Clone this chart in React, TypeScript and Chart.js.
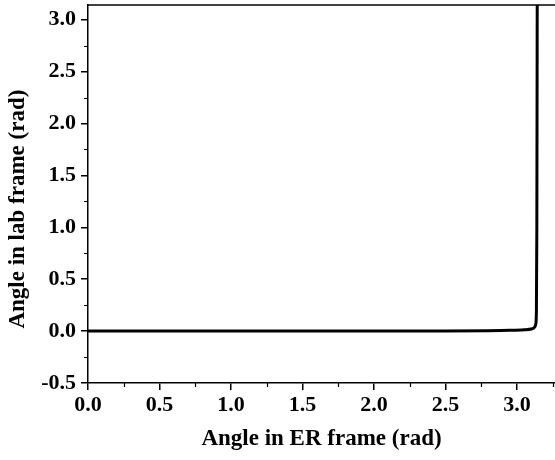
import React, { useEffect, useRef } from "react";
import { Chart, registerables } from "chart.js";

Chart.register(...registerables);

const xValues = [0, 0.5, 1.0, 1.5, 2.0, 2.5, 2.8, 2.95, 3.05, 3.1, 3.115, 3.125, 3.132, 3.136, 3.139, 3.1416];
const yValues = [0, 0, 0, 0, 0, 0, 0.003, 0.007, 0.013, 0.02, 0.028, 0.04, 0.07, 0.2, 1.0, 3.1416];
const xTicks = [0, 0.5, 1.0, 1.5, 2.0, 2.5, 3.0];
const yTicks = [-0.5, 0, 0.5, 1.0, 1.5, 2.0, 2.5, 3.0];
const xMinor = [0.25, 0.75, 1.25, 1.75, 2.25, 2.75, 3.25];
const yMinor = [-0.25, 0.25, 0.75, 1.25, 1.75, 2.25, 2.75];
const yTitle = "Angle in lab frame (rad)";
const xTitle = "Angle in ER frame (rad)";

const FONT = "'Liberation Serif', 'Times New Roman', serif";

const extras = {
  id: "extras",
  afterDraw(chart: any) {
    const { ctx, chartArea } = chart;
    const xs = chart.scales.x;
    const ys = chart.scales.y;
    ctx.save();
    ctx.strokeStyle = "#000";
    ctx.lineWidth = 1.5;
    ctx.beginPath();
    ctx.moveTo(chartArea.left, chartArea.top);
    ctx.lineTo(chartArea.right, chartArea.top);
    ctx.stroke();
    ctx.lineWidth = 1.2;
    ctx.beginPath();
    for (const v of xMinor) {
      const px = Math.round(xs.getPixelForValue(v)) + 0.5;
      ctx.moveTo(px, chartArea.bottom);
      ctx.lineTo(px, chartArea.bottom + 4);
    }
    for (const v of yMinor) {
      const py = Math.round(ys.getPixelForValue(v)) + 0.5;
      ctx.moveTo(chartArea.left, py);
      ctx.lineTo(chartArea.left - 4, py);
    }
    ctx.stroke();
    ctx.translate(18, chartArea.top + (chartArea.bottom - chartArea.top) * 0.54);
    ctx.rotate(-Math.PI / 2);
    ctx.fillStyle = "#000";
    ctx.font = `bold 23px ${FONT}`;
    ctx.textAlign = "center";
    ctx.textBaseline = "middle";
    ctx.fillText(yTitle, 0, 0);
    ctx.restore();
  },
};

export default function App() {
  const ref = useRef<HTMLCanvasElement | null>(null);
  useEffect(() => {
    if (!ref.current) return;
    const chart = new Chart(ref.current, {
      type: "line",
      data: {
        datasets: [
          {
            data: xValues.map((x, i) => ({ x, y: yValues[i] })),
            borderColor: "#000",
            borderWidth: 3,
            pointRadius: 0,
            tension: 0,
            cubicInterpolationMode: "monotone",
            fill: false,
          },
        ],
      },
      options: {
        animation: false,
        responsive: false,
        devicePixelRatio: 1,
        layout: { padding: { top: 5, right: 0, left: 0, bottom: 0 } },
        plugins: { legend: { display: false }, tooltip: { enabled: false } },
        scales: {
          x: {
            type: "linear",
            min: 0,
            max: 3.266,
            afterBuildTicks: (s: any) => {
              s.ticks = xTicks.map((v) => ({ value: v }));
            },
            afterFit: (s: any) => {
              s.height = 77;
              s.paddingLeft = 0;
              s.paddingRight = 0;
            },
            grid: { drawOnChartArea: false, drawTicks: true, tickLength: 7, color: "#000", lineWidth: 1.5 },
            border: { display: true, color: "#000", width: 1.5 },
            ticks: {
              color: "#000",
              padding: 2,
              maxRotation: 0,
              autoSkip: false,
              font: { family: FONT, size: 22, weight: "bold" },
              callback: (v: any) => Number(v).toFixed(1),
            },
            title: {
              display: true,
              text: xTitle,
              color: "#000",
              font: { family: FONT, size: 23, weight: "bold" },
              padding: { top: 0, bottom: 7 },
            },
          },
          y: {
            type: "linear",
            min: -0.5,
            max: 3.1416,
            afterBuildTicks: (s: any) => {
              s.ticks = yTicks.map((v) => ({ value: v }));
            },
            afterFit: (s: any) => {
              s.width = 88;
              s.paddingTop = 0;
              s.paddingBottom = 0;
            },
            grid: { drawOnChartArea: false, drawTicks: true, tickLength: 7, color: "#000", lineWidth: 1.5 },
            border: { display: true, color: "#000", width: 1.5 },
            ticks: {
              color: "#000",
              padding: 5,
              autoSkip: false,
              font: { family: FONT, size: 22, weight: "bold" },
              callback: (v: any) => Number(v).toFixed(1),
            },
            title: { display: false },
          },
        },
      } as any,
      plugins: [extras],
    });
    return () => chart.destroy();
  }, []);
  return (
    <div style={{ position: "fixed", left: 0, top: 0, width: 555, height: 460, background: "#fff" }}>
      <canvas ref={ref} width={555} height={460} style={{ display: "block" }} />
    </div>
  );
}
